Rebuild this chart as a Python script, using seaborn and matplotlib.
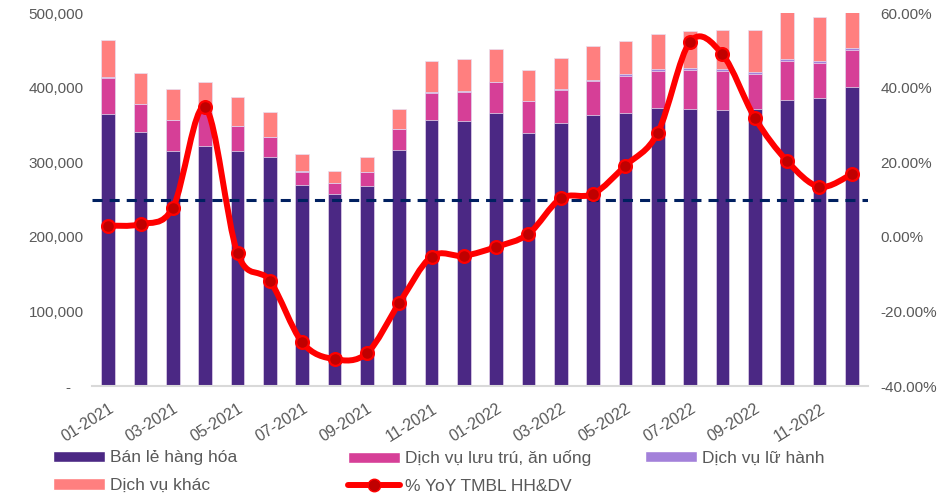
import numpy as np
import pandas as pd
import seaborn as sns
import matplotlib.pyplot as plt
from matplotlib.path import Path
from matplotlib.patches import PathPatch, Patch
from matplotlib.lines import Line2D
from matplotlib.ticker import FuncFormatter

# ---- data ----
months = [f"{m:02d}-{y}" for y in (2021, 2022) for m in range(1, 13)]

retail = [365000, 341000, 315500, 322000, 315000, 306500, 270000, 257000,
          268500, 317000, 356600, 355700, 366000, 339100, 352500, 363300,
          366000, 372200, 370900, 369600, 371700, 384000, 386500, 401200]
food = [48300, 36600, 40700, 45000, 33000, 27300, 17300, 14700,
        18800, 27100, 36600, 38900, 41100, 42500, 43900, 45000,
        50000, 50500, 53100, 53100, 46500, 52000, 46900, 49600]
travel = [1500, 800, 800, 800, 700, 500, 300, 200,
          200, 400, 600, 800, 1000, 800, 1300, 1300,
          2200, 2700, 2700, 2300, 2300, 2700, 2300, 1800]
other = [48500, 40600, 40700, 39200, 38700, 33400, 23000, 16300,
         19500, 26800, 41900, 43400, 43700, 41200, 41600, 46200,
         44700, 46900, 49200, 52200, 56700, 63300, 59300, 49400]
yoy = [3.0, 3.4, 7.8, 34.7, -4.4, -11.8, -28.3, -32.8, -31.2, -17.8, -5.3, -5.1,
       -2.7, 0.8, 10.3, 11.5, 19.1, 27.9, 52.3, 48.9, 31.9, 20.3, 13.4, 16.8]
target = 10.0

labels = ["Bán lẻ hàng hóa", "Dịch vụ lưu trú, ăn uống", "Dịch vụ lữ hành",
          "Dịch vụ khác", "% YoY TMBL HH&DV"]

c_retail = "#4B2884"
c_food = "#D63F97"
c_travel = "#A381DA"
c_other = "#FF7F7F"
c_line = "#FF0000"
c_mark = "#C00000"
c_text = "#595959"

df = pd.DataFrame({"month": months, "retail": retail, "food": food,
                   "travel": travel, "other": other, "yoy": yoy})
df["lvl2"] = df["retail"] + df["food"]
df["lvl3"] = df["lvl2"] + df["travel"]
df["lvl4"] = df["lvl3"] + df["other"]

sns.set_style("white")
plt.rcParams["font.family"] = ["Liberation Sans", "DejaVu Sans"]

fig = plt.figure(figsize=(9.46, 4.95), dpi=100)
ax = fig.add_axes([0.0973, 0.2202, 0.8202, 0.7535])

# stacked bars drawn as overlapping cumulative totals
for col, color in [("lvl4", c_other), ("lvl3", c_travel),
                   ("lvl2", c_food), ("retail", c_retail)]:
    sns.barplot(data=df, x="month", y=col, color=color, saturation=1,
                width=0.42, edgecolor="#E8E0F2", linewidth=0.5, ax=ax)

ax.set_xlim(-0.5, len(months) - 0.5)
ax.set_ylim(0, 500000)
ax.set_yticks(range(0, 500001, 100000))
ax.yaxis.set_major_formatter(FuncFormatter(lambda v, _: "-   " if v == 0 else f"{v:,.0f}"))
ax.set_xticks(range(0, len(months), 2))
ax.set_xticklabels(months[::2], rotation=32, ha="right", rotation_mode="anchor")
ax.set_xlabel("")
ax.set_ylabel("")
ax.tick_params(axis="both", length=0, labelsize=11, colors=c_text)
ax.tick_params(axis="x", labelsize=11.5, pad=11)
ax.tick_params(axis="y", pad=6)
for s in ["left", "right", "top"]:
    ax.spines[s].set_visible(False)
ax.spines["bottom"].set_color("#D9D9D9")
ax.spines["bottom"].set_linewidth(1.5)

# secondary axis: YoY growth
ax2 = ax.twinx()
ax2.set_ylim(-40, 60)
ax2.set_yticks(range(-40, 61, 20))
ax2.yaxis.set_major_formatter(FuncFormatter(lambda v, _: f"{v:.2f}%"))
ax2.tick_params(axis="y", length=0, labelsize=11, colors=c_text, pad=9)
for s in ax2.spines.values():
    s.set_visible(False)

ax2.axhline(target, color="#002060", lw=2.2, ls=(0, (3.3, 2.3)), zorder=2)

# smoothed line (cubic bezier through the points)
pts = np.column_stack([np.arange(len(yoy)), np.array(yoy, dtype=float)])
verts = [tuple(pts[0])]
codes = [Path.MOVETO]
n = len(pts)
for i in range(n - 1):
    p0 = pts[max(i - 1, 0)]
    p1 = pts[i]
    p2 = pts[i + 1]
    p3 = pts[min(i + 2, n - 1)]
    verts += [tuple(p1 + (p2 - p0) / 6), tuple(p2 - (p3 - p1) / 6), tuple(p2)]
    codes += [Path.CURVE4] * 3
ax2.add_patch(PathPatch(Path(verts, codes), fill=False, edgecolor=c_line,
                        lw=4.3, capstyle="round", joinstyle="round", zorder=3))
sns.scatterplot(x=pts[:, 0], y=pts[:, 1], s=85, color=c_mark,
                edgecolor=c_line, linewidth=1.6, zorder=4, ax=ax2, legend=False)
ax2.set_ylabel("")

# legend laid out in three fixed columns
h_retail = Patch(facecolor=c_retail)
h_food = Patch(facecolor=c_food)
h_travel = Patch(facecolor=c_travel)
h_other = Patch(facecolor=c_other)
h_yoy = Line2D([], [], color=c_line, lw=4.3, marker="o", markersize=9,
               markerfacecolor=c_mark, markeredgecolor=c_line)
cols = [([h_retail, h_other], [labels[0], labels[3]], 0.056),
        ([h_food, h_yoy], [labels[1], labels[4]], 0.368),
        ([h_travel], [labels[2]], 0.682)]
for hs, ls, xpos in cols:
    fig.legend(hs, ls, loc="upper left", bbox_to_anchor=(xpos, 0.090),
               frameon=False, fontsize=12.5, handlelength=3.0, handleheight=0.65,
               handletextpad=0.3, labelspacing=0.72, borderpad=0, borderaxespad=0,
               labelcolor=c_text)

fig.savefig("out.png", dpi=100)
